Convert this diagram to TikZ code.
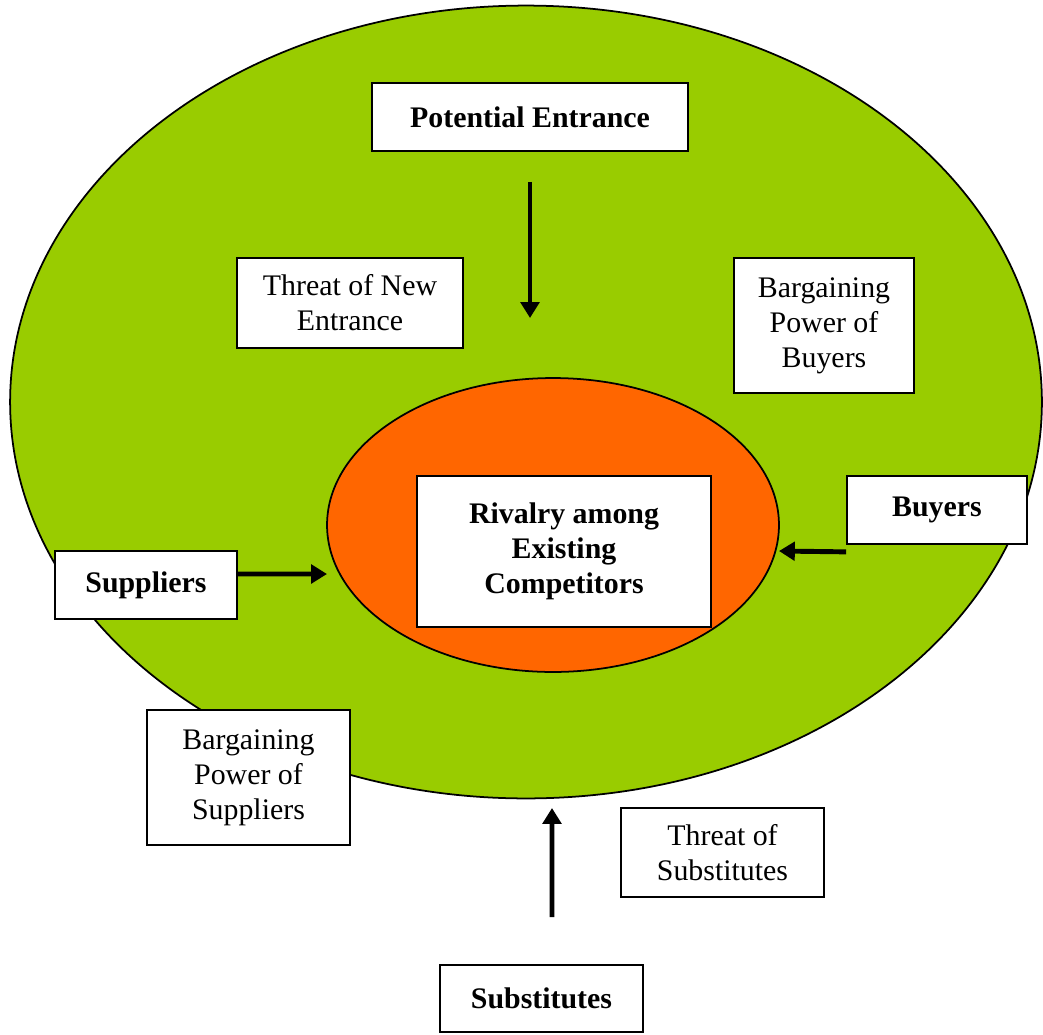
\documentclass[tikz,border=0pt]{standalone}
\usepackage{fontspec}
\setmainfont{Liberation Serif}
\usetikzlibrary{positioning, shapes.geometric, arrows.meta}
\definecolor{leafgreen}{RGB}{153,204,0}
\definecolor{rivalorange}{RGB}{255,102,0}

\begin{document}
\begin{tikzpicture}[x=0.02cm, y=-0.02cm,
        box/.style={rectangle, draw=black, fill=white, line width=1pt, align=center, font=\fontsize{17}{20}\selectfont, inner sep=2pt},
        bbox/.style={box, font=\fontsize{17}{20}\selectfont\bfseries},
        arrow/.style={-{Triangle[length=9pt, width=10.5pt]}, line width=2.8pt}
    ]
        \useasboundingbox (0,0) rectangle (1043,1034);
        % the two rings
        \node[ellipse, draw=black, fill=leafgreen, line width=1pt, minimum width=20.64cm, minimum height=15.86cm, inner sep=0pt] (MARKET) at (526,402) {};
        \node[ellipse, draw=black, fill=rivalorange, line width=1pt, minimum width=9.04cm, minimum height=5.88cm, inner sep=0pt] (CORE) at (553,525) {};

        % forces
        \node[bbox, minimum width=6.32cm, minimum height=1.36cm] (PE) at (530,117) {Potential Entrance};
        \node[box, minimum width=4.52cm, minimum height=1.8cm] (TNE) at (350,303) {Threat of New\\Entrance};
        \node[box, minimum width=3.6cm, minimum height=2.7cm] (BPB) at (824,325.5) {Bargaining\\Power of\\Buyers};
        \node[bbox, minimum width=5.88cm, minimum height=3.02cm] (RIV) at (564,551.5) {Rivalry among\\Existing\\Competitors};
        \node[bbox, minimum width=3.6cm, minimum height=1.36cm] (BUY) at (937,510) {Buyers};
        \node[bbox, minimum width=3.64cm, minimum height=1.36cm] (SUP) at (146,585) {Suppliers};
        \node[box, minimum width=4.06cm, minimum height=2.7cm] (BPS) at (248.5,777.5) {Bargaining\\Power of\\Suppliers};
        \node[box, minimum width=4.06cm, minimum height=1.78cm] (TOS) at (722.5,852.5) {Threat of\\Substitutes};
        \node[bbox, minimum width=4.06cm, minimum height=1.34cm] (SUB) at (541.5,998.5) {Substitutes};

        % arrow ends
        \coordinate (pe-end) at (530,318);
        \coordinate (sup-end) at (327,574);
        \coordinate (buy-end) at (779,551);
        \coordinate (sub-end) at (552,808);

        \draw[arrow, shorten <=0.6cm] (PE.south) -- (pe-end);
        \draw[arrow] ([yshift=0.22cm]SUP.east) -- (sup-end);
        \draw[arrow] ([yshift=-0.14cm]BUY.south west) -- (buy-end);
        \draw[arrow] ([xshift=0.21cm, yshift=0.94cm]SUB.north) -- (sub-end);
    \end{tikzpicture}
\end{document}
